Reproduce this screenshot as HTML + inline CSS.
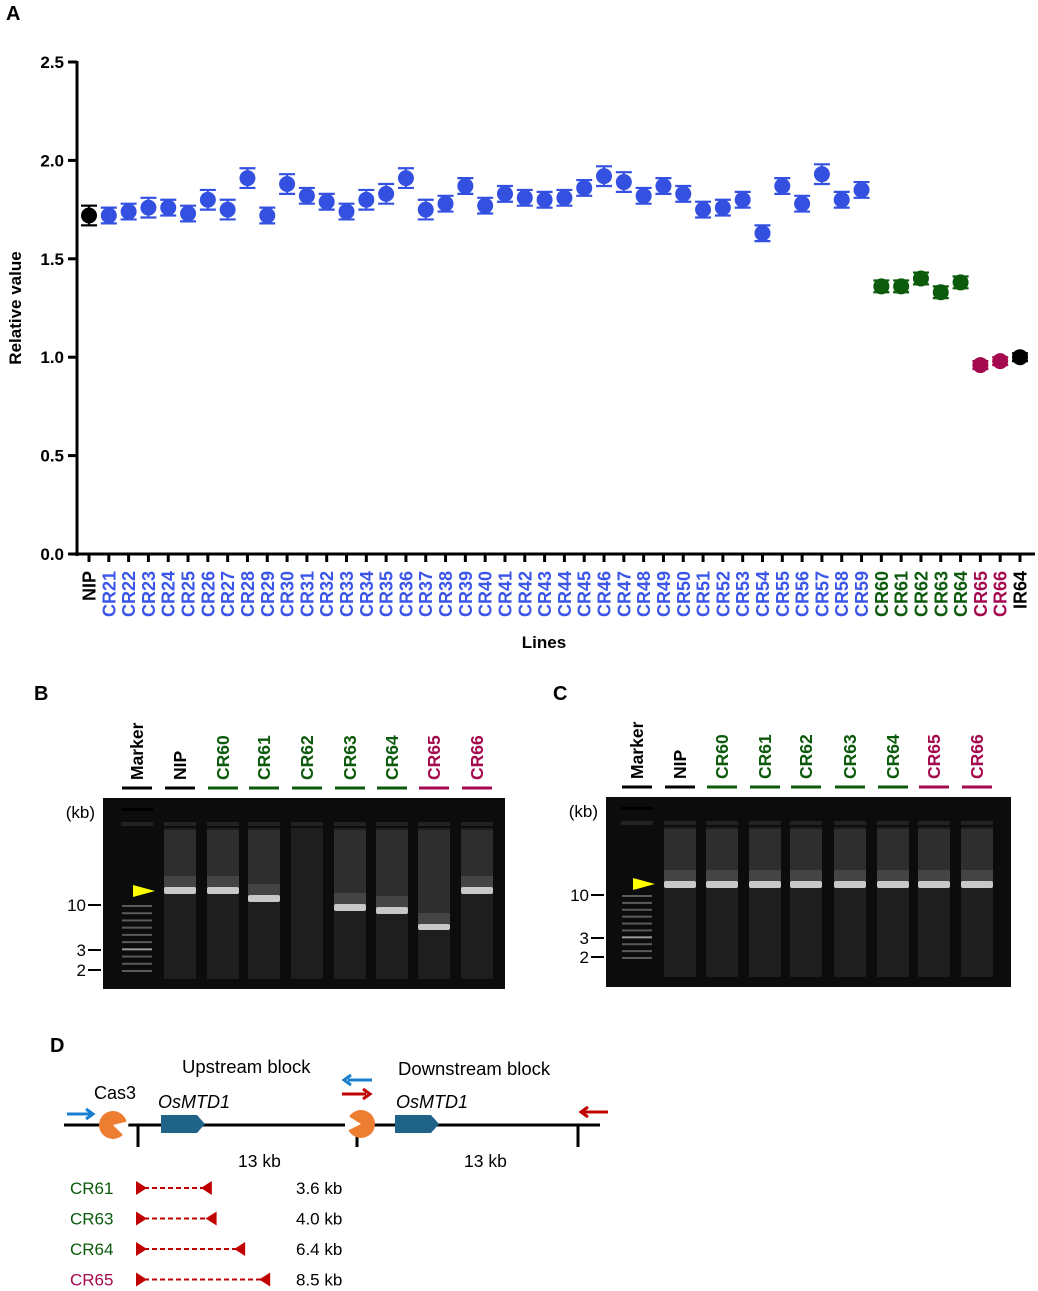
<!DOCTYPE html>
<html><head><meta charset="utf-8"><style>
body{margin:0;background:#fff;}
svg{display:block;font-family:"Liberation Sans",Arial,sans-serif;}
</style></head><body>
<svg id="fig" width="1038" height="1291" viewBox="0 0 1038 1291" xmlns="http://www.w3.org/2000/svg">
<text x="6" y="20" font-size="20" font-weight="bold">A</text>
<g id="chart"></g>

<text x="34" y="700" font-size="20" font-weight="bold">B</text>
<g id="gelB"></g>
<text x="553" y="700" font-size="20" font-weight="bold">C</text>
<g id="gelC"></g>

<g>
<text x="50" y="1052" font-size="20" font-weight="bold">D</text>
<text x="182" y="1073" font-size="18.5">Upstream block</text>
<text x="398" y="1075" font-size="18.5">Downstream block</text>
<text x="94" y="1099" font-size="18">Cas3</text>
<text x="158" y="1108" font-size="18" font-style="italic">OsMTD1</text>
<text x="396" y="1108" font-size="18" font-style="italic">OsMTD1</text>
<line x1="64" y1="1125" x2="600" y2="1125" stroke="#000" stroke-width="3"/>
<line x1="138" y1="1125" x2="138" y2="1147" stroke="#000" stroke-width="3"/>
<line x1="357" y1="1125" x2="357" y2="1147" stroke="#000" stroke-width="3"/>
<line x1="578" y1="1125" x2="578" y2="1147" stroke="#000" stroke-width="3"/>
<circle cx="113" cy="1125" r="14" fill="#ed7d31"/>
<path d="M113,1125 L129,1121 L126,1138 Z" fill="#fff"/>
<circle cx="361" cy="1124" r="14" fill="#ed7d31"/>
<path d="M361,1124 L345,1114 L345,1132 Z" fill="#fff"/>
<path d="M161,1115 L197,1115 L205,1124 L197,1133 L161,1133 Z" fill="#1f6389"/>
<path d="M395,1115 L431,1115 L439,1124 L431,1133 L395,1133 Z" fill="#1f6389"/>
<g stroke-width="3" fill="none">
<path d="M67,1114 L91,1114" stroke="#1a7fd0"/><path d="M86,1109 L93,1114 L86,1119" stroke="#1a7fd0"/>
<path d="M348,1080 L372,1080" stroke="#1a7fd0"/><path d="M351,1075 L344,1080 L351,1085" stroke="#1a7fd0"/>
<path d="M342,1094 L366,1094" stroke="#c00000"/><path d="M363,1089 L370,1094 L363,1099" stroke="#c00000"/>
<path d="M584,1112 L608,1112" stroke="#c00000"/><path d="M588,1107 L581,1112 L588,1117" stroke="#c00000"/>
</g>
<text x="238" y="1167" font-size="17.5">13 kb</text>
<text x="464" y="1167" font-size="17.5">13 kb</text>
<g id="dels"></g>
</g>
</svg>
<script>
const NS="http://www.w3.org/2000/svg";
function mk(p,t,a,txt){const e=document.createElementNS(NS,t);for(const k in a)e.setAttribute(k,a[k]);if(txt!==undefined)e.textContent=txt;p.appendChild(e);return e;}

const categories=["NIP","CR21","CR22","CR23","CR24","CR25","CR26","CR27","CR28","CR29","CR30","CR31","CR32","CR33","CR34","CR35","CR36","CR37","CR38","CR39","CR40","CR41","CR42","CR43","CR44","CR45","CR46","CR47","CR48","CR49","CR50","CR51","CR52","CR53","CR54","CR55","CR56","CR57","CR58","CR59","CR60","CR61","CR62","CR63","CR64","CR65","CR66","IR64"];
const values=[1.72,1.72,1.74,1.76,1.76,1.73,1.80,1.75,1.91,1.72,1.88,1.82,1.79,1.74,1.80,1.83,1.91,1.75,1.78,1.87,1.77,1.83,1.81,1.80,1.81,1.86,1.92,1.89,1.82,1.87,1.83,1.75,1.76,1.80,1.63,1.87,1.78,1.93,1.80,1.85,1.36,1.36,1.40,1.33,1.38,0.96,0.98,1.00];
const errors=[0.05,0.04,0.04,0.05,0.04,0.04,0.05,0.05,0.05,0.04,0.05,0.04,0.04,0.04,0.05,0.05,0.05,0.05,0.04,0.04,0.04,0.04,0.04,0.04,0.04,0.04,0.05,0.05,0.04,0.04,0.04,0.04,0.04,0.04,0.04,0.04,0.04,0.05,0.04,0.04,0.03,0.03,0.03,0.03,0.03,0.02,0.02,0.02];
const groups=["k","b","b","b","b","b","b","b","b","b","b","b","b","b","b","b","b","b","b","b","b","b","b","b","b","b","b","b","b","b","b","b","b","b","b","b","b","b","b","b","g","g","g","g","g","r","r","k"];
const yTicks=[0,0.5,1.0,1.5,2.0,2.5];
const yTickLabels=["0.0","0.5","1.0","1.5","2.0","2.5"];
const COL={k:"#000",b:"#3450e0",g:"#0c5a0c",r:"#a50a4e"};
const LCOL={k:"#000",b:"#3a55e8",g:"#0c5a0c",r:"#a50a4e"};

const X0=89,X1=1020,Y0=554,Y1=62,YMAX=2.5;
const xs=i=>X0+(X1-X0)*i/(categories.length-1);
const ys=v=>Y0-(Y0-Y1)*v/YMAX;
const ch=document.getElementById('chart');
let e;
e=mk(ch,'line',{x1:77,y1:Y1-1,x2:77,y2:Y0+2,stroke:'#000','stroke-width':3});


e=mk(ch,'line',{x1:75.5,y1:Y0,x2:1035,y2:Y0,stroke:'#000','stroke-width':3});


yTicks.forEach((t,i)=>{
  mk(ch,'line',{x1:68,y1:ys(t),x2:77,y2:ys(t),stroke:'#000','stroke-width':3});
  e=mk(ch,'text',{x:64,y:ys(t)+6,'text-anchor':'end','font-size':17,'font-weight':'bold'},yTickLabels[i]);
  
  
});
e=mk(ch,'text',{x:0,y:0,transform:'translate(21,308) rotate(-90)','text-anchor':'middle','font-size':17,'font-weight':'bold'},'Relative value');


e=mk(ch,'text',{x:544,y:648,'text-anchor':'middle','font-size':17,'font-weight':'bold'},'Lines');


categories.forEach((c,i)=>{
  const x=xs(i);
  mk(ch,'line',{x1:x,y1:Y0,x2:x,y2:Y0+8,stroke:'#000','stroke-width':3});
  e=mk(ch,'text',{x:0,y:0,transform:`translate(${x+6.5},${Y0+17}) rotate(-90)`,'text-anchor':'end','font-size':18,'font-weight':'bold',fill:LCOL[groups[i]]},c);
  
  
  const v=values[i],er=errors[i],col=COL[groups[i]];
  const g=mk(ch,'g',{});
  
  
  mk(g,'line',{x1:x,y1:ys(v+er),x2:x,y2:ys(v-er),stroke:col,'stroke-width':2});
  mk(g,'line',{x1:x-8,y1:ys(v+er),x2:x+8,y2:ys(v+er),stroke:col,'stroke-width':2.2});
  mk(g,'line',{x1:x-8,y1:ys(v-er),x2:x+8,y2:ys(v-er),stroke:col,'stroke-width':2.2});
  mk(g,'circle',{cx:x,cy:ys(v),r:8,fill:col});
});

const laneNames=["Marker","NIP","CR60","CR61","CR62","CR63","CR64","CR65","CR66"];
const laneGroups=["k","k","g","g","g","g","g","r","r"];
function gel(id,cfg){
  const G=document.getElementById(id);
  e=mk(G,'rect',{x:cfg.x0,y:cfg.y0,width:cfg.x1-cfg.x0,height:cfg.y1-cfg.y0,fill:'#0c0c0c'});
  
  
  cfg.lanes.forEach((lx,i)=>{
    const col=LCOL[laneGroups[i]];
    mk(G,'line',{x1:lx-15,y1:cfg.y0-10,x2:lx+15,y2:cfg.y0-10,stroke:col,'stroke-width':3});
    e=mk(G,'text',{x:0,y:0,transform:`translate(${lx+6},${cfg.y0-18}) rotate(-90)`,'font-size':17.5,'font-weight':'bold',fill:col},laneNames[i]);
    
    
    mk(G,'rect',{x:lx-16,y:cfg.y0+24,width:32,height:4,fill:'#222'});
    if(i==0){
      mk(G,'rect',{x:lx-16,y:cfg.y0+10,width:32,height:3,fill:'#000'});
      for(let k=0;k<10;k++)mk(G,'rect',{x:lx-15,y:cfg.t10+k*(cfg.t2-cfg.t10)/9,width:30,height:2,fill:k==6?'#9a9a9a':'#5a5a5a'});
    } else {
      mk(G,'rect',{x:lx-16,y:cfg.y0+30,width:32,height:cfg.y1-cfg.y0-40,fill:'#1e1e1e'});
      (cfg.bands[i]||[]).forEach(b=>{
        mk(G,'rect',{x:lx-16,y:cfg.y0+32,width:32,height:b[0]-cfg.y0-32,fill:'#2e2e2e'});
        mk(G,'rect',{x:lx-16,y:b[0]-14,width:32,height:14,fill:'#444'});
        mk(G,'rect',{x:lx-16,y:b[0]-3,width:32,height:b[1],fill:'#c8c8c8',rx:2});
      });
    }
  });
  mk(G,'path',{d:`M${cfg.lanes[0]-4},${cfg.arrow-6} L${cfg.lanes[0]+18},${cfg.arrow} L${cfg.lanes[0]-4},${cfg.arrow+6} Z`,fill:'#ffff00'});
  [["10",cfg.t10],["3",cfg.t3],["2",cfg.t2]].forEach(t=>{
    mk(G,'line',{x1:cfg.x0-15,y1:t[1],x2:cfg.x0-2,y2:t[1],stroke:'#000','stroke-width':2});
    e=mk(G,'text',{x:cfg.x0-17,y:t[1]+6,'text-anchor':'end','font-size':17},t[0]);
    
    
  });
  e=mk(G,'text',{x:cfg.x0-8,y:cfg.y0+20,'text-anchor':'end','font-size':17},'(kb)');
  
  
}
gel('gelB',{x0:103,x1:505,y0:798,y1:989,lanes:[137,180,223,264,307,350,392,434,477],t10:905,t3:950,t2:970,arrow:891,
  bands:[null,[[890,7]],[[890,7]],[[898,7]],[],[[907,7]],[[910,7]],[[917,5],[927,6]],[[890,7]]]});
gel('gelC',{x0:606,x1:1011,y0:797,y1:987,lanes:[637,680,722,765,806,850,893,934,977],t10:895,t3:938,t2:957,arrow:884,
  bands:[null,[[884,7]],[[884,7]],[[884,7]],[[884,7]],[[884,7]],[[884,7]],[[884,7]],[[884,7]]]});

const delLines=["CR61","CR63","CR64","CR65"];
const delSizes=[3.6,4.0,6.4,8.5];
const delLabels=["3.6 kb","4.0 kb","6.4 kb","8.5 kb"];
const delGroups=["g","g","g","r"];
const D=document.getElementById('dels');
delLines.forEach((n,i)=>{
  const y=1188+i*30.5, x0=136, x1=x0+31+delSizes[i]*11.9;
  e=mk(D,'text',{x:70,y:y+6,'font-size':17,fill:LCOL[delGroups[i]]},n);
  
  
  mk(D,'line',{x1:x0,y1:y,x2:x1,y2:y,stroke:'#c00000','stroke-width':2,'stroke-dasharray':'5,3'});
  mk(D,'path',{d:`M${x0},${y-7} L${x0+11},${y} L${x0},${y+7} Z`,fill:'#c00000'});
  mk(D,'path',{d:`M${x1+2},${y-7} L${x1-9},${y} L${x1+2},${y+7} Z`,fill:'#c00000'});
  e=mk(D,'text',{x:296,y:y+6,'font-size':17},delLabels[i]);
  
  
});
</script>
</body></html>
